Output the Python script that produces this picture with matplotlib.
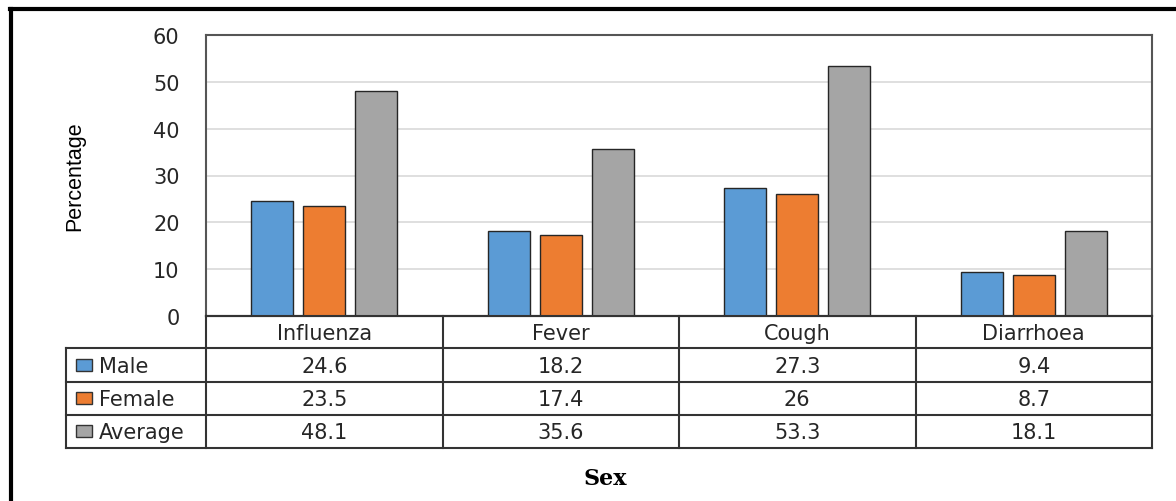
import matplotlib
matplotlib.use("Agg")
import matplotlib.pyplot as plt
from matplotlib.lines import Line2D
from matplotlib.patches import Rectangle

categories = ["Influenza", "Fever", "Cough", "Diarrhoea"]
series_names = ["Male", "Female", "Average"]
male = [24.6, 18.2, 27.3, 9.4]
female = [23.5, 17.4, 26, 8.7]
average = [48.1, 35.6, 53.3, 18.1]
table_text = [["24.6", "18.2", "27.3", "9.4"],
              ["23.5", "17.4", "26", "8.7"],
              ["48.1", "35.6", "53.3", "18.1"]]
yticks = [0, 10, 20, 30, 40, 50, 60]
colors = ["#5B9BD5", "#ED7D31", "#A5A5A5"]

plt.rcParams['font.family'] = ['DejaVu Sans']
FS = 15
TC = "#262626"

W, H = 1176, 502
fig = plt.figure(figsize=(W / 100, H / 100), dpi=100)

def fx(px):
    return px / W

def fy(py):
    return 1 - py / H

left, right, top, bottom = 206, 1152, 36, 317
ax = fig.add_axes([fx(left), fy(bottom), fx(right - left), (bottom - top) / H])

x = list(range(len(categories)))
bw = 0.178
step = 0.22
for i, (vals, c) in enumerate(zip([male, female, average], colors)):
    ax.bar([xi + (i - 1) * step for xi in x], vals, width=bw, color=c,
           edgecolor="#262626", linewidth=1.0, zorder=3)

ax.set_xlim(-0.5, 3.5)
ax.set_ylim(0, 60)
ax.set_yticks(yticks)
ax.set_yticklabels([str(t) for t in yticks], fontsize=FS, color=TC)
ax.tick_params(axis="y", length=0, pad=19)
ax.set_xticks([])
ax.yaxis.grid(True, color="#D9D9D9", linewidth=1.2, zorder=0)
for s in ax.spines.values():
    s.set_color("#555555")
    s.set_linewidth(1.5)
ax.spines["bottom"].set_color("#262626")

# Table axes
row_edges = [317, 349, 383, 416, 449]
lab_left = 66
cat_w = (right - left) / 4
xl0 = -0.5 - (left - lab_left) / cat_w
tax = fig.add_axes([fx(lab_left), fy(row_edges[-1]), fx(right - lab_left),
                    (row_edges[-1] - row_edges[0]) / H])
tax.set_xlim(xl0, 3.5)
tax.set_ylim(row_edges[-1], row_edges[0])
tax.axis("off")
lc = "#333333"
lw = 1.5
tax.plot([-0.5, 3.5], [row_edges[0]] * 2, color=lc, lw=lw, clip_on=False)
for ye in row_edges[1:]:
    tax.plot([xl0, 3.5], [ye] * 2, color=lc, lw=lw, clip_on=False)
tax.plot([xl0, xl0], [row_edges[1], row_edges[-1]], color=lc, lw=lw, clip_on=False)
for xv in [-0.5, 0.5, 1.5, 2.5, 3.5]:
    tax.plot([xv, xv], [row_edges[0], row_edges[-1]], color=lc, lw=lw, clip_on=False)

for i, cat in enumerate(categories):
    tax.text(i, (row_edges[0] + row_edges[1]) / 2 + 1, cat, ha="center", va="center",
             fontsize=FS, color=TC)
for r, (name, c) in enumerate(zip(series_names, colors)):
    yc = (row_edges[r + 1] + row_edges[r + 2]) / 2
    sw = 16 / cat_w
    tax.add_patch(Rectangle((xl0 + 10 / cat_w, yc - 6), sw, 12, facecolor=c,
                            edgecolor="#333333", lw=1, clip_on=False))
    tax.text(xl0 + 33 / cat_w, yc + 1, name, ha="left", va="center",
             fontsize=FS, color=TC)
    for i in range(len(categories)):
        tax.text(i, yc + 1, table_text[r][i], ha="center", va="center",
                 fontsize=FS, color=TC)

fig.text(fx(75), fy(176), "Percentage", rotation=90, ha="center", va="center",
         fontsize=15.5, family=["Liberation Sans", "DejaVu Sans"], color="#000000")
fig.text(fx(605), fy(479), "Sex", ha="center", va="center", fontsize=16,
         fontweight="bold", family=["DejaVu Serif"], color="#000000")

# outer border (top and left)
fig.add_artist(Line2D([fx(10), fx(W)], [fy(10), fy(10)], color="black", lw=3,
                      transform=fig.transFigure))
fig.add_artist(Line2D([fx(11), fx(11)], [fy(10), fy(H)], color="black", lw=3,
                      transform=fig.transFigure))

fig.savefig("out.png", dpi=100)
